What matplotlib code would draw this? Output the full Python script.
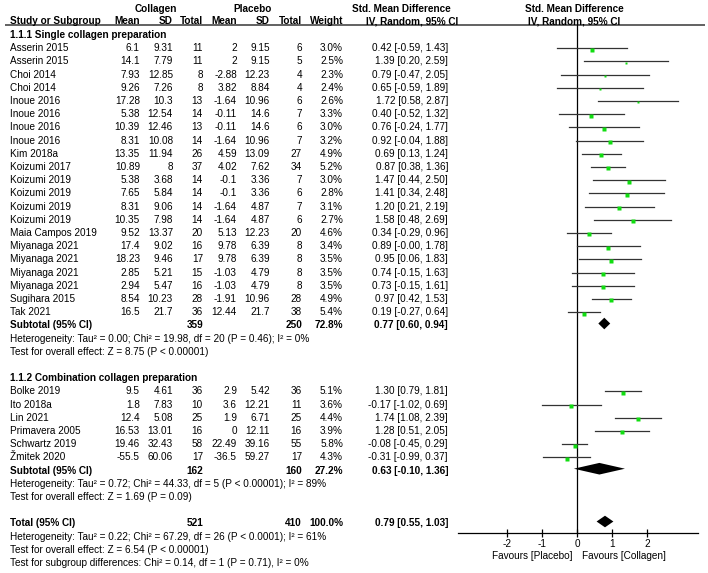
import matplotlib
matplotlib.use('Agg')
import matplotlib.pyplot as plt

plt.rcParams['font.family'] = ['Liberation Sans', 'DejaVu Sans']

# ---- data ----
studies1 = ['Asserin 2015', 'Asserin 2015', 'Choi 2014', 'Choi 2014', 'Inoue 2016', 'Inoue 2016',
            'Inoue 2016', 'Inoue 2016', 'Kim 2018a', 'Koizumi 2017', 'Koizumi 2019', 'Koizumi 2019',
            'Koizumi 2019', 'Koizumi 2019', 'Maia Campos 2019', 'Miyanaga 2021', 'Miyanaga 2021',
            'Miyanaga 2021', 'Miyanaga 2021', 'Sugihara 2015', 'Tak 2021']
mean_c1 = [6.1, 14.1, 7.93, 9.26, 17.28, 5.38, 10.39, 8.31, 13.35, 10.89, 5.38, 7.65, 8.31, 10.35,
           9.52, 17.4, 18.23, 2.85, 2.94, 8.54, 16.5]
sd_c1 = [9.31, 7.79, 12.85, 7.26, 10.3, 12.54, 12.46, 10.08, 11.94, 8, 3.68, 5.84, 9.06, 7.98,
         13.37, 9.02, 9.46, 5.21, 5.47, 10.23, 21.7]
n_c1 = [11, 11, 8, 8, 13, 14, 13, 14, 26, 37, 14, 14, 14, 14, 20, 16, 17, 15, 16, 28, 36]
mean_p1 = [2, 2, -2.88, 3.82, -1.64, -0.11, -0.11, -1.64, 4.59, 4.02, -0.1, -0.1, -1.64, -1.64,
           5.13, 9.78, 9.78, -1.03, -1.03, -1.91, 12.44]
sd_p1 = [9.15, 9.15, 12.23, 8.84, 10.96, 14.6, 14.6, 10.96, 13.09, 7.62, 3.36, 3.36, 4.87, 4.87,
         12.23, 6.39, 6.39, 4.79, 4.79, 10.96, 21.7]
n_p1 = [6, 5, 4, 4, 6, 7, 6, 7, 27, 34, 7, 6, 7, 6, 20, 8, 8, 8, 8, 28, 38]
weight1 = [3.0, 2.5, 2.3, 2.4, 2.6, 3.3, 3.0, 3.2, 4.9, 5.2, 3.0, 2.8, 3.1, 2.7, 4.6, 3.4, 3.5,
           3.5, 3.5, 4.9, 5.4]
smd1 = [0.42, 1.39, 0.79, 0.65, 1.72, 0.40, 0.76, 0.92, 0.69, 0.87, 1.47, 1.41, 1.20, 1.58, 0.34,
        0.89, 0.95, 0.74, 0.73, 0.97, 0.19]
lo1 = [-0.59, 0.20, -0.47, -0.59, 0.58, -0.52, -0.24, -0.04, 0.13, 0.38, 0.44, 0.34, 0.21, 0.48,
       -0.29, -0.004, 0.06, -0.15, -0.15, 0.42, -0.27]
hi1 = [1.43, 2.59, 2.05, 1.89, 2.87, 1.32, 1.77, 1.88, 1.24, 1.36, 2.50, 2.48, 2.19, 2.69, 0.96,
       1.78, 1.83, 1.63, 1.61, 1.53, 0.64]

studies2 = ['Bolke 2019', 'Ito 2018a', 'Lin 2021', 'Primavera 2005', 'Schwartz 2019', 'Žmitek 2020']
mean_c2 = [9.5, 1.8, 12.4, 16.53, 19.46, -55.5]
sd_c2 = [4.61, 7.83, 5.08, 13.01, 32.43, 60.06]
n_c2 = [36, 10, 25, 16, 58, 17]
mean_p2 = [2.9, 3.6, 1.9, 0, 22.49, -36.5]
sd_p2 = [5.42, 12.21, 6.71, 12.11, 39.16, 59.27]
n_p2 = [36, 11, 25, 16, 55, 17]
weight2 = [5.1, 3.6, 4.4, 3.9, 5.8, 4.3]
smd2 = [1.30, -0.17, 1.74, 1.28, -0.08, -0.31]
lo2 = [0.79, -1.02, 1.08, 0.51, -0.45, -0.99]
hi2 = [1.81, 0.69, 2.39, 2.05, 0.29, 0.37]

# pooled: [estimate, low, high]
sub1 = [0.77, 0.60, 0.94]
sub2 = [0.63, -0.10, 1.36]
total = [0.79, 0.55, 1.03]
sub_n1 = [359, 250, 72.8]
sub_n2 = [162, 160, 27.2]
total_n = [521, 410, 100.0]

het1 = 'Heterogeneity: Tau² = 0.00; Chi² = 19.98, df = 20 (P = 0.46); I² = 0%'
eff1 = 'Test for overall effect: Z = 8.75 (P < 0.00001)'
het2 = 'Heterogeneity: Tau² = 0.72; Chi² = 44.33, df = 5 (P < 0.00001); I² = 89%'
eff2 = 'Test for overall effect: Z = 1.69 (P = 0.09)'
het_t = 'Heterogeneity: Tau² = 0.22; Chi² = 67.29, df = 26 (P < 0.0001); I² = 61%'
eff_t = 'Test for overall effect: Z = 6.54 (P < 0.00001)'
sub_t = 'Test for subgroup differences: Chi² = 0.14, df = 1 (P = 0.71), I² = 0%'

# ---- layout ----
W, H = 708, 573
Y0, DY = 8.7, 13.2          # pixel y of row 0, row height
FS = 7.2


def row_of(px):
    return (px - Y0) / DY


fig = plt.figure(figsize=(W / 100, H / 100), dpi=100)
bg = fig.add_axes([0, 0, 1, 1])
bg.set_xlim(0, W)
bg.set_ylim(row_of(H), row_of(0))
bg.axis('off')

col_x = [140, 173, 203, 237, 270, 302, 343]   # right edges of numeric columns
ci_x = 448


def txt(x, r, s, ha='right', bold=False):
    bg.text(x, r, s, ha=ha, va='center', fontsize=FS,
            fontweight='bold' if bold else 'normal')


def fmt(v):
    return '{:g}'.format(v)


# header
txt(156, 0, 'Collagen', 'center', True)
txt(253, 0, 'Placebo', 'center', True)
txt(401, 0, 'Std. Mean Difference', 'center', True)
txt(574, 0, 'Std. Mean Difference', 'center', True)
txt(10, 0.95, 'Study or Subgroup', 'left', True)
for x, s in zip(col_x, ['Mean', 'SD', 'Total', 'Mean', 'SD', 'Total', 'Weight']):
    txt(x, 0.95, s, bold=True)
txt(412, 0.95, 'IV, Random, 95% CI', 'center', True)
txt(574, 0.95, 'IV, Random, 95% CI', 'center', True)
top_row = row_of(25.0)
bg.plot([5, 705], [top_row, top_row], color='#555555', lw=1.3, solid_capstyle='butt')


def study_rows(start, names, mc, sc, nc, mp, sp, npl, w, smd, lo, hi):
    rows = []
    for i, name in enumerate(names):
        r = start + i
        rows.append(r)
        txt(10, r, name, 'left')
        vals = [fmt(mc[i]), fmt(sc[i]), str(nc[i]), fmt(mp[i]), fmt(sp[i]), str(npl[i]),
                '{:.1f}%'.format(w[i])]
        for x, s in zip(col_x, vals):
            txt(x, r, s)
        txt(ci_x, r, '{:.2f} [{:.2f}, {:.2f}]'.format(smd[i], lo[i], hi[i]))
    return rows


def pooled_row(r, label, ns, est):
    txt(10, r, label, 'left', True)
    txt(col_x[2], r, str(ns[0]), bold=True)
    txt(col_x[5], r, str(ns[1]), bold=True)
    txt(col_x[6], r, '{:.1f}%'.format(ns[2]), bold=True)
    txt(ci_x, r, '{:.2f} [{:.2f}, {:.2f}]'.format(*est), bold=True)


txt(10, 2, '1.1.1 Single collagen preparation', 'left', True)
rows1 = study_rows(3, studies1, mean_c1, sd_c1, n_c1, mean_p1, sd_p1, n_p1, weight1, smd1, lo1, hi1)
pooled_row(24, 'Subtotal (95% CI)', sub_n1, sub1)
txt(10, 25, het1, 'left')
txt(10, 26, eff1, 'left')

txt(10, 28, '1.1.2 Combination collagen preparation', 'left', True)
rows2 = study_rows(29, studies2, mean_c2, sd_c2, n_c2, mean_p2, sd_p2, n_p2, weight2, smd2, lo2, hi2)
pooled_row(35, 'Subtotal (95% CI)', sub_n2, sub2)
txt(10, 36, het2, 'left')
txt(10, 37, eff2, 'left')

pooled_row(39, 'Total (95% CI)', total_n, total)
txt(10, 40, het_t, 'left')
txt(10, 41, eff_t, 'left')
txt(10, 42, sub_t, 'left')

fav_r = row_of(556)
txt(572, fav_r, 'Favours [Placebo]')
txt(582, fav_r, 'Favours [Collagen]', 'left')

# ---- forest panel ----
ax_l, ax_r, ax_t, ax_b = 457.7, 697.7, top_row * DY + Y0, 533.3
ax = fig.add_axes([ax_l / W, (H - ax_b) / H, (ax_r - ax_l) / W, (ax_b - ax_t) / H])
ax.patch.set_alpha(0)
ax.set_xlim(-3.42, 3.44)
ax.set_ylim(row_of(ax_b), row_of(ax_t))
for s in ['top', 'left', 'right']:
    ax.spines[s].set_visible(False)
ax.spines['bottom'].set_linewidth(0.9)
ax.set_yticks([])
ax.set_xticks([-2, -1, 0, 1, 2])
ax.set_xticklabels(['-2', '-1', '0', '1', '2'], fontsize=FS)
ax.tick_params(axis='x', direction='inout', length=6, width=0.9, pad=1)
ax.axvline(0, color='black', lw=0.9)

for rows, smd, lo, hi, w in [(rows1, smd1, lo1, hi1, weight1), (rows2, smd2, lo2, hi2, weight2)]:
    for r, e, a, b, wt in zip(rows, smd, lo, hi, w):
        ax.plot([a, b], [r, r], color='#333333', lw=0.9)
        ax.plot(e, r + 0.1, marker='s', ms=2.0 + 0.06 * wt, color='#11dd11', mec='none')

for r, (e, a, b) in [(24, sub1), (35, sub2), (39, total)]:
    r = r - 0.15
    ax.fill([a, e, b, e], [r, r - 0.44, r, r + 0.44], color='black', lw=0)

fig.savefig('out.png', dpi=100)
